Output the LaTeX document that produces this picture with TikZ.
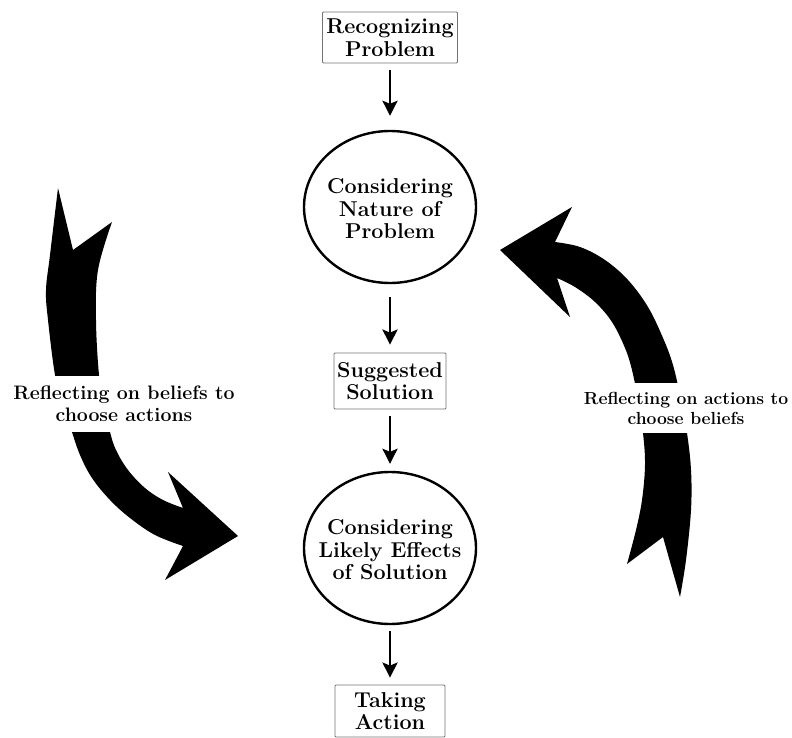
\documentclass[tikz,border=0pt]{standalone}
\usetikzlibrary{arrows.meta,shapes.geometric}
\begin{document}
\begin{tikzpicture}[x=1pt,y=-1pt,
  txt/.style={font=\bfseries\fontsize{21.5}{22.5}\selectfont, align=center, inner sep=0pt},
  boxnode/.style={txt, draw=black!55, line width=0.8pt, rounded corners=1pt},
  ovalnode/.style={draw, ellipse, line width=2.4pt, minimum width=172pt, minimum height=152pt, inner sep=0pt},
  flow/.style={line width=2.8pt, -{Stealth[length=15pt,width=15pt,inset=3pt]}},
  bigarrow/.style={fill=black},
  sidelabel/.style={font=\bfseries\fontsize{19.5}{22}\selectfont, align=center, fill=white, inner sep=0pt}
]
\useasboundingbox (0,0) rectangle (792,738);

% big curved arrows
\fill[bigarrow] (58,188) -- (73,250) -- (112,222)
  -- plot[smooth, tension=0.6] coordinates {(112,222) (98,270) (96,320) (99,375) (104,405) (110,432) (116,450) (128,470) (145,488) (163,500) (183,508)}
  -- (168,472) -- (238,536) -- (165,580) -- (183,546)
  -- plot[smooth, tension=0.6] coordinates {(183,546) (155,535) (130,518) (110,500) (92,478) (80,455) (72,432) (62,400) (55,375) (48,320) (46,290) (50,255) (58,188)}
  -- cycle;

\fill[bigarrow] (500,250) -- (572,207) -- (555,242)
  -- plot[smooth, tension=0.6] coordinates {(555,242) (580,247) (605,260) (628,280) (648,307) (663,338) (673,365) (681,400) (687,433) (691,470) (691,510) (686,560) (680,597)}
  -- (663,537) -- (627,564)
  -- plot[smooth, tension=0.6] coordinates {(627,564) (636,530) (642,500) (645,465) (643,433) (638,400) (632,370) (625,348) (612,322) (595,302) (575,287) (557,278)}
  -- (570,317) -- cycle;

\node[sidelabel, minimum height=56pt] (lab1) at (124,404) {Reflecting on beliefs to\\choose actions};
\node[sidelabel, font=\bfseries\fontsize{17.5}{20}\selectfont, minimum height=50pt] (lab2) at (686,408) {Reflecting on actions to\\choose beliefs};

% flow nodes
\node[boxnode, minimum width=135pt, minimum height=51pt] (b1) at (390,37.5) {Recognizing\\Problem};
\node[ovalnode] (c1) at (390,207) {};
\node[txt] (c1t) at (390,209) {Considering\\Nature of\\Problem};
\node[boxnode, minimum width=112pt, minimum height=56pt] (b2) at (390,381) {Suggested\\Solution};
\node[ovalnode] (c2) at (390,548) {};
\node[txt] (c2t) at (390,550) {Considering\\Likely Effects\\of Solution};
\node[boxnode, minimum width=110pt, minimum height=52pt] (b3) at (390,711) {Taking\\Action};

\draw[flow, shorten <=7pt, shorten >=14pt] (b1) -- (c1);
\draw[flow, shorten <=13pt, shorten >=8pt] (c1) -- (b2);
\draw[flow, shorten <=7pt, shorten >=7pt] (b2) -- (c2);
\draw[flow, shorten <=6pt, shorten >=7pt] (c2) -- (b3);
\end{tikzpicture}
\end{document}
